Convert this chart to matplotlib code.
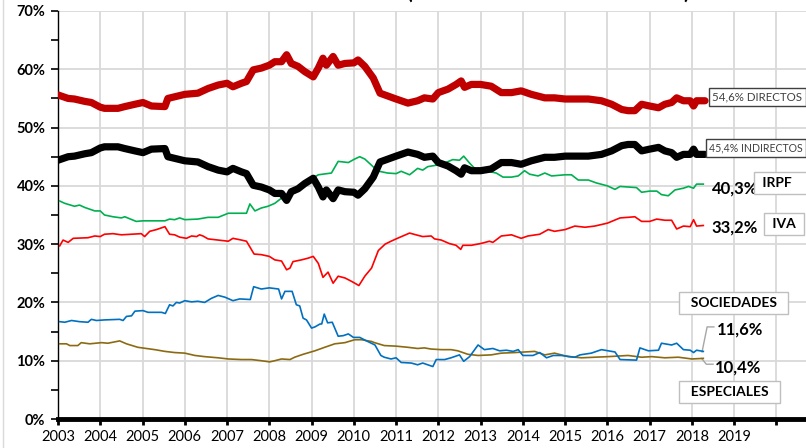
import matplotlib
matplotlib.use("Agg")
import matplotlib.pyplot as plt
from matplotlib.lines import Line2D

plt.rcParams['font.family'] = ['Lato', 'DejaVu Sans']

# DIRECTOS / INDIRECTOS share the same dates
dir_years = [2003.00, 2003.24, 2003.39, 2003.63, 2003.79, 2004.00, 2004.10, 2004.42, 2004.58, 2004.82,
             2005.01, 2005.21, 2005.53, 2005.60, 2006.00, 2006.31, 2006.55, 2006.79, 2007.00, 2007.14,
             2007.34, 2007.46, 2007.62, 2007.81, 2008.00, 2008.13, 2008.29, 2008.41, 2008.52, 2008.68,
             2008.84, 2009.04, 2009.16, 2009.27, 2009.35, 2009.51, 2009.63, 2009.79, 2010.00, 2010.10,
             2010.26, 2010.46, 2010.62, 2011.00, 2011.28, 2011.51, 2011.67, 2011.87, 2012.00, 2012.23,
             2012.42, 2012.54, 2012.62, 2012.78, 2013.00, 2013.25, 2013.49, 2013.73, 2013.96, 2014.20,
             2014.36, 2014.52, 2014.75, 2015.00, 2015.23, 2015.55, 2015.86, 2016.10, 2016.34, 2016.49,
             2016.65, 2016.81, 2017.00, 2017.21, 2017.36, 2017.52, 2017.64, 2017.80, 2017.96, 2018.04,
             2018.11, 2018.31]
directos = [55.6, 55.0, 54.9, 54.5, 54.3, 53.5, 53.3, 53.3, 53.6, 54.0,
            54.3, 53.7, 53.6, 55.0, 55.7, 55.9, 56.7, 57.3, 57.6, 57.0,
            57.6, 57.9, 59.9, 60.2, 60.7, 61.3, 61.3, 62.5, 61.0, 60.5,
            59.6, 58.7, 60.2, 61.9, 60.7, 62.2, 60.7, 61.0, 61.1, 61.6,
            60.5, 58.5, 55.9, 54.9, 54.2, 54.6, 55.1, 54.9, 56.0, 56.6,
            57.4, 58.0, 56.9, 57.4, 57.4, 57.1, 56.0, 56.0, 56.3, 55.7,
            55.4, 55.1, 55.1, 54.9, 54.9, 54.9, 54.6, 54.0, 53.1, 52.9,
            52.9, 54.0, 53.7, 53.4, 54.0, 54.3, 55.1, 54.6, 54.6, 53.7,
            54.6, 54.6]
indirectos = [44.4, 45.0, 45.1, 45.5, 45.7, 46.5, 46.7, 46.7, 46.4, 46.0,
              45.7, 46.3, 46.4, 45.0, 44.3, 44.1, 43.3, 42.7, 42.4, 43.0,
              42.4, 42.1, 40.1, 39.8, 39.3, 38.7, 38.7, 37.5, 39.0, 39.5,
              40.4, 41.3, 39.8, 38.1, 39.3, 37.8, 39.3, 39.0, 38.9, 38.4,
              39.5, 41.5, 44.1, 45.1, 45.8, 45.4, 44.9, 45.1, 44.0, 43.4,
              42.6, 42.0, 43.1, 42.6, 42.6, 42.9, 44.0, 44.0, 43.7, 44.3,
              44.6, 44.9, 44.9, 45.1, 45.1, 45.1, 45.4, 46.0, 46.9, 47.1,
              47.1, 46.0, 46.3, 46.6, 46.0, 45.7, 44.9, 45.4, 45.4, 46.3,
              45.4, 45.4]

irpf_years = [2003.04, 2003.16, 2003.39, 2003.51, 2003.63, 2003.87, 2004.00, 2004.10, 2004.30, 2004.50,
              2004.58, 2004.85, 2005.01, 2005.53, 2005.64, 2005.76, 2005.88, 2006.00, 2006.31, 2006.55,
              2006.79, 2007.03, 2007.46, 2007.54, 2007.66, 2007.81, 2007.97, 2008.13, 2008.29, 2008.60,
              2008.80, 2009.00, 2009.16, 2009.47, 2009.63, 2009.87, 2010.02, 2010.14, 2010.26, 2010.50,
              2010.60, 2010.80, 2011.00, 2011.12, 2011.32, 2011.51, 2011.63, 2011.75, 2012.00, 2012.11,
              2012.34, 2012.50, 2012.60, 2012.74, 2012.86, 2013.00, 2013.17, 2013.37, 2013.53, 2013.73,
              2013.89, 2014.04, 2014.16, 2014.36, 2014.52, 2014.68, 2015.00, 2015.15, 2015.31, 2015.55,
              2015.74, 2016.00, 2016.18, 2016.30, 2016.69, 2016.81, 2017.00, 2017.17, 2017.28, 2017.44,
              2017.60, 2017.80, 2017.92, 2018.04, 2018.11, 2018.27]
irpf = [37.4, 37.0, 36.5, 36.7, 36.3, 35.7, 35.7, 35.0, 34.7, 34.5,
        34.7, 33.9, 34.0, 34.0, 34.3, 34.2, 34.5, 34.2, 34.3, 34.6,
        34.6, 35.3, 35.3, 36.9, 35.7, 36.2, 36.5, 37.0, 37.9, 38.8,
        40.0, 41.2, 41.9, 42.2, 44.2, 44.0, 44.6, 45.0, 44.6, 43.0,
        42.5, 42.2, 42.1, 42.5, 41.9, 43.0, 42.7, 43.3, 43.6, 43.8,
        44.5, 44.4, 45.1, 43.9, 43.0, 42.3, 42.5, 42.2, 41.5, 41.5,
        41.7, 42.6, 42.0, 41.7, 42.2, 41.7, 41.9, 41.9, 41.0, 41.0,
        40.5, 40.0, 39.4, 39.9, 39.7, 38.9, 39.1, 39.1, 38.5, 38.3,
        39.3, 39.6, 39.9, 39.6, 40.3, 40.3]

iva_years = [2003.04, 2003.12, 2003.24, 2003.36, 2003.71, 2003.87, 2004.00, 2004.10, 2004.30, 2004.50,
             2004.74, 2004.97, 2005.05, 2005.17, 2005.33, 2005.53, 2005.64, 2005.76, 2005.88, 2006.04,
             2006.16, 2006.28, 2006.35, 2006.43, 2006.55, 2006.79, 2007.03, 2007.14, 2007.34, 2007.46,
             2007.64, 2007.81, 2008.00, 2008.13, 2008.29, 2008.41, 2008.49, 2008.56, 2008.76, 2008.92,
             2009.04, 2009.16, 2009.27, 2009.39, 2009.51, 2009.63, 2009.79, 2009.95, 2010.12, 2010.26,
             2010.42, 2010.58, 2010.74, 2010.88, 2011.00, 2011.16, 2011.32, 2011.47, 2011.63, 2011.83,
             2011.91, 2012.07, 2012.26, 2012.42, 2012.53, 2012.58, 2012.78, 2013.00, 2013.21, 2013.29,
             2013.49, 2013.73, 2013.96, 2014.12, 2014.40, 2014.60, 2014.75, 2015.00, 2015.23, 2015.47,
             2015.70, 2016.00, 2016.30, 2016.49, 2016.65, 2016.81, 2017.00, 2017.17, 2017.36, 2017.52,
             2017.64, 2017.80, 2017.96, 2018.04, 2018.11, 2018.27]
iva = [29.7, 30.7, 30.3, 31.0, 31.1, 31.4, 31.3, 31.7, 31.8, 31.6,
       31.7, 31.8, 31.3, 32.2, 32.5, 33.0, 31.7, 31.6, 31.2, 31.0,
       31.4, 31.3, 31.6, 31.4, 30.9, 30.7, 30.5, 31.0, 30.7, 30.5,
       28.3, 28.2, 27.9, 27.3, 27.1, 25.6, 25.9, 27.0, 27.3, 27.6,
       27.9, 26.7, 24.3, 25.2, 23.3, 24.5, 24.2, 23.6, 22.9, 24.5,
       25.9, 28.9, 30.0, 30.5, 30.9, 31.4, 31.9, 31.6, 31.3, 31.4,
       30.9, 30.7, 30.1, 29.8, 29.1, 29.8, 29.8, 30.1, 30.5, 30.3,
       31.4, 31.6, 31.0, 31.4, 31.7, 32.5, 32.2, 32.5, 33.1, 32.9,
       33.1, 33.6, 34.5, 34.6, 34.7, 33.9, 33.9, 34.3, 34.1, 34.1,
       32.6, 33.1, 33.0, 34.2, 33.1, 33.2]

soc_years = [2003.04, 2003.16, 2003.32, 2003.51, 2003.71, 2003.79, 2003.91, 2004.10, 2004.46, 2004.54,
             2004.62, 2004.74, 2004.82, 2005.01, 2005.13, 2005.45, 2005.54, 2005.64, 2005.72, 2005.80,
             2005.88, 2006.00, 2006.16, 2006.31, 2006.47, 2006.63, 2006.79, 2006.95, 2007.14, 2007.30,
             2007.55, 2007.63, 2007.81, 2008.00, 2008.22, 2008.29, 2008.37, 2008.54, 2008.64, 2008.72,
             2008.80, 2008.88, 2009.00, 2009.08, 2009.20, 2009.24, 2009.30, 2009.38, 2009.49, 2009.63,
             2009.75, 2009.87, 2009.99, 2010.14, 2010.30, 2010.50, 2010.64, 2010.72, 2010.88, 2011.00,
             2011.12, 2011.36, 2011.51, 2011.63, 2011.75, 2011.87, 2011.95, 2012.15, 2012.30, 2012.50,
             2012.60, 2012.74, 2012.94, 2013.09, 2013.29, 2013.45, 2013.61, 2013.77, 2013.89, 2014.00,
             2014.24, 2014.40, 2014.56, 2014.72, 2014.91, 2015.23, 2015.35, 2015.62, 2015.86, 2016.18,
             2016.30, 2016.69, 2016.77, 2016.97, 2017.21, 2017.28, 2017.52, 2017.64, 2017.80, 2017.96,
             2018.04, 2018.11, 2018.27]
sociedades = [16.7, 16.6, 16.9, 16.7, 16.6, 17.1, 16.9, 17.0, 17.1, 16.9,
              17.6, 17.7, 18.5, 18.6, 18.3, 18.3, 18.1, 19.6, 19.4, 20.0,
              19.9, 20.3, 20.1, 20.2, 20.0, 20.7, 21.2, 20.9, 20.3, 20.6,
              20.5, 22.7, 22.3, 22.5, 22.3, 20.6, 21.9, 21.9, 19.6, 19.4,
              17.3, 17.0, 15.6, 15.8, 16.3, 16.3, 18.0, 16.5, 16.6, 14.2,
              14.3, 14.6, 14.0, 14.0, 13.4, 12.7, 10.9, 10.6, 10.3, 10.5,
              9.7, 9.6, 9.3, 9.6, 9.3, 9.0, 10.2, 10.2, 10.5, 11.0,
              9.9, 10.7, 12.7, 11.9, 12.1, 11.7, 11.8, 11.6, 11.9, 10.9,
              10.9, 11.4, 10.5, 10.9, 10.9, 10.6, 11.0, 11.3, 11.9, 11.5,
              10.2, 10.1, 12.2, 11.7, 11.8, 13.0, 12.7, 13.0, 11.9, 11.8,
              11.4, 11.8, 11.6]

esp_years = [2003.04, 2003.20, 2003.28, 2003.47, 2003.55, 2003.75, 2004.03, 2004.18, 2004.46, 2004.62,
             2004.89, 2005.29, 2005.53, 2005.76, 2006.00, 2006.24, 2006.47, 2006.79, 2007.03, 2007.34,
             2007.58, 2007.81, 2008.01, 2008.13, 2008.29, 2008.49, 2008.60, 2008.80, 2009.08, 2009.31,
             2009.55, 2009.79, 2010.02, 2010.18, 2010.42, 2010.49, 2010.72, 2011.00, 2011.28, 2011.51,
             2011.67, 2011.83, 2012.07, 2012.30, 2012.46, 2012.70, 2012.94, 2013.25, 2013.49, 2013.81,
             2014.28, 2014.52, 2014.75, 2015.07, 2015.39, 2015.70, 2016.02, 2016.49, 2016.81, 2017.05,
             2017.36, 2017.68, 2018.00, 2018.27]
especiales = [12.9, 12.9, 12.6, 12.6, 13.1, 12.9, 13.1, 13.0, 13.4, 12.9,
              12.3, 11.9, 11.6, 11.4, 11.3, 10.9, 10.7, 10.5, 10.3, 10.2,
              10.2, 10.0, 9.8, 10.0, 10.3, 10.2, 10.6, 11.1, 11.7, 12.3,
              12.9, 13.1, 13.6, 13.6, 13.3, 13.1, 12.6, 12.5, 12.3, 12.1,
              12.2, 12.0, 11.9, 11.9, 11.7, 11.1, 10.9, 11.0, 11.3, 11.4,
              11.6, 11.0, 11.3, 10.7, 10.5, 10.6, 10.7, 10.9, 10.6, 10.7,
              10.5, 10.6, 10.3, 10.4]

years = list(range(2003, 2021))
year_labels = [str(y) for y in range(2003, 2020)] + ['']

fig = plt.figure(figsize=(8.06, 4.48), dpi=100)
ax = fig.add_axes([58 / 806, 29 / 448, 748 / 806, 408 / 448])

ax.plot(esp_years, especiales, color='#8B6A12', lw=1.2, zorder=3)
ax.plot(soc_years, sociedades, color='#0070C0', lw=1.2, zorder=3)
ax.plot(iva_years, iva, color='#FF0000', lw=1.2, zorder=3)
ax.plot(irpf_years, irpf, color='#00B050', lw=1.2, zorder=3)
ax.plot(dir_years, indirectos, color='black', lw=5.2, zorder=4,
        solid_capstyle='round', solid_joinstyle='round')
ax.plot(dir_years, directos, color='#C00000', lw=5.2, zorder=4,
        solid_capstyle='round', solid_joinstyle='round')

ax.set_xlim(2003, 2020.7)
ax.set_ylim(0, 70)
ax.set_xticks(years)
ax.set_xticklabels(year_labels, fontsize=10.5)
ax.set_yticks(range(0, 71, 10))
ax.set_yticklabels([f'{v}%' for v in range(0, 71, 10)], fontsize=10.5, fontweight='bold')
ax.set_yticks(range(5, 70, 10), minor=True)
ax.grid(True, color='#d9d9d9', lw=1.3, zorder=0)
ax.set_axisbelow(True)

for s in ['top', 'right']:
    ax.spines[s].set_visible(False)
ax.spines['left'].set_linewidth(1.0)
ax.spines['bottom'].set_linewidth(3.5)
ax.tick_params(axis='y', which='both', length=5, width=1.2, pad=4)
ax.tick_params(axis='x', length=4, width=2, pad=4)

# etiquetas de la derecha
dark_box = dict(boxstyle='square,pad=0.3', fc='white', ec='#404040', lw=1.0)
light_box = dict(boxstyle='square,pad=0.35', fc='white', ec='#bfbfbf', lw=1.0)
ax.text(2019.55, 55.2, '54,6% DIRECTOS', fontsize=8.3, color='#404040', ha='center', va='center',
        bbox=dark_box, zorder=6)
ax.text(2019.52, 46.5, '45,4% INDIRECTOS', fontsize=7.6, color='#404040', ha='center', va='center',
        bbox=dark_box, zorder=6)
ax.text(2019.02, 39.5, '40,3%', fontsize=12, fontweight='bold', ha='center', va='center')
ax.text(2020.1, 40.5, ' IRPF   ', fontsize=10, fontweight='bold', ha='center', va='center',
        bbox=light_box)
ax.text(2019.02, 32.9, '33,2%', fontsize=12, fontweight='bold', ha='center', va='center')
ax.text(2020.18, 33.4, ' IVA ', fontsize=10, fontweight='bold', ha='center', va='center',
        bbox=light_box)
ax.text(2018.99, 19.9, '  SOCIEDADES  ', fontsize=10, fontweight='bold', ha='center', va='center',
        bbox=light_box)
ax.text(2019.13, 15.4, '11,6%', fontsize=12, fontweight='bold', ha='center', va='center')
ax.text(2019.09, 8.9, '10,4%', fontsize=12, fontweight='bold', ha='center', va='center')
ax.text(2018.9, 4.6, '  ESPECIALES  ', fontsize=10, fontweight='bold', ha='center', va='center',
        bbox=light_box)
ax.plot([2018.24, 2018.36, 2018.52], [11.5, 15.8, 15.8], color='#a6a6a6', lw=1.0)
ax.plot([2018.23, 2018.34, 2018.5], [10.4, 9.4, 9.4], color='#a6a6a6', lw=1.0)

# titulo cortado arriba
fig.text(409 / 806, 1 - 3 / 448, '(', fontsize=15, fontweight='bold', ha='center', va='bottom')
fig.text(686 / 806, 1 - 3 / 448, ')', fontsize=15, fontweight='bold', ha='center', va='bottom')

# borde del grafico
fig.add_artist(Line2D([3 / 806, 3 / 806], [0, 1], color='#d9d9d9', lw=1.0))

fig.savefig('out.png', dpi=100)
